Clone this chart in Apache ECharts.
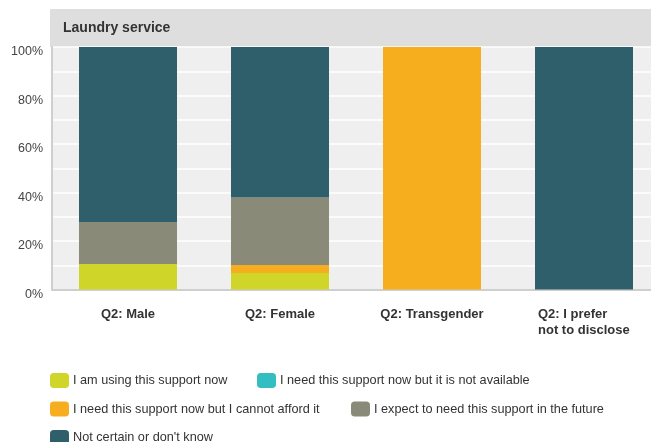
<!DOCTYPE html>
<html>
<head>
<meta charset="utf-8">
<script src="https://cdn.jsdelivr.net/npm/echarts@6/dist/echarts.min.js"></script>
<style>html,body{margin:0;padding:0;background:#fff}#c{width:651px;height:442px}</style>
</head>
<body>
<div id="c"></div>
<script>
const categories = ['Q2: Male', 'Q2: Female', 'Q2: Transgender', 'Q2: I prefer\nnot to disclose'];
const seriesNames = [
  'I am using this support now',
  'I need this support now but it is not available',
  'I need this support now but I cannot afford it',
  'I expect to need this support in the future',
  "Not certain or don't know"
];
const usingNow = [10.5, 6.8, 0, 0];
const notAvailable = [0, 0, 0, 0];
const cannotAfford = [0, 3.3, 100, 0];
const expectFuture = [17.3, 27.8, 0, 0];
const notCertain = [72.2, 62.1, 0, 100];
const colors = ['#d0d52a', '#35bec1', '#f6ae1e', '#8a8a78', '#2e5f6b'];
const values = [usingNow, notAvailable, cannotAfford, expectFuture, notCertain];

const legendPos = [
  {left: 50, top: 373},
  {left: 257, top: 373},
  {left: 50, top: 401.5},
  {left: 351, top: 401.5},
  {left: 50, top: 430}
];
const FONT = 'Liberation Sans, Arial, sans-serif';

const chart = echarts.init(document.getElementById('c'), null, {renderer: 'canvas'});
chart.setOption({
  animation: false,
  textStyle: {fontFamily: FONT},
  graphic: [{
    type: 'rect', left: 50, top: 9, z: -10,
    shape: {width: 601, height: 38},
    style: {fill: '#dedede'}
  }],
  title: {
    text: 'Laundry service', left: 63, top: 21, padding: 0,
    textStyle: {fontSize: 14, fontWeight: 'bold', color: '#333', fontFamily: FONT}
  },
  legend: seriesNames.map((n, i) => ({
    data: [n], left: legendPos[i].left, top: legendPos[i].top, padding: 0,
    itemWidth: 19, itemHeight: 15, icon: 'roundRect', itemGap: 0,
    selectedMode: false,
    textStyle: {fontSize: 12.7, color: '#333', padding: [-3, 0, 0, -1], fontFamily: FONT}
  })),
  grid: {
    left: 52, right: -9, top: 47, bottom: 152.5,
    show: true, backgroundColor: '#efefef', borderWidth: 0,
    outerBoundsMode: 'none', containLabel: false
  },
  xAxis: {
    type: 'category', data: categories,
    axisLine: {lineStyle: {color: '#cfcfcf', width: 2}},
    axisTick: {show: false},
    axisLabel: {
      fontSize: 13, fontWeight: 'bold', color: '#333', margin: 17, lineHeight: 16,
      interval: 0, hideOverlap: false,
      formatter: v => v.indexOf('\n') >= 0 ? v.split('\n').map(s => '{l|' + s + '}').join('\n') : v,
      rich: {l: {width: 92, align: 'left', fontSize: 13, fontWeight: 'bold', color: '#333', lineHeight: 16, fontFamily: FONT}}
    }
  },
  yAxis: {
    type: 'value', min: 0, max: 100, interval: 10,
    axisLine: {show: true, lineStyle: {color: '#cfcfcf', width: 2}},
    axisTick: {show: false},
    splitLine: {lineStyle: {color: '#ffffff', width: 1.5}},
    axisLabel: {fontSize: 12.5, color: '#444', margin: 9, verticalAlign: 'top', lineHeight: 10,
      formatter: v => (v % 20 === 0 ? v + '%' : '')}
  },
  series: seriesNames.map((n, i) => ({
    name: n, type: 'bar', stack: 'all', data: values[i], barWidth: 98,
    itemStyle: {color: colors[i]},
    emphasis: {disabled: true}
  }))
});
</script>
</body>
</html>
